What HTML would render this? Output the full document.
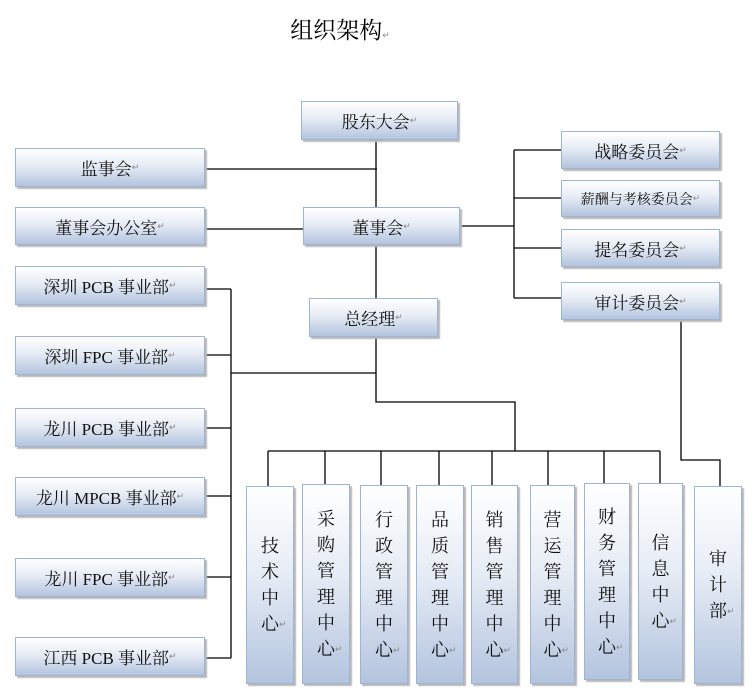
<!DOCTYPE html>
<html><head><meta charset="utf-8"><style>
body{margin:0;width:756px;height:692px;background:#fff;position:relative;overflow:hidden;font-family:"Liberation Serif","Noto Serif CJK SC","Noto Sans CJK SC",serif;}
.b{position:absolute;box-sizing:border-box;border:1px solid #9fb3d2;background:linear-gradient(#ffffff 0%,#e6ecf5 45%,#b3c4de 100%);box-shadow:2px 2px 1px #b9b9b9;display:flex;align-items:center;justify-content:center;font-size:17px;color:#111;text-align:center;white-space:nowrap;}
.v{line-height:26px;font-size:18px;}
.v span{display:inline-block;width:18px;}
i{font-style:normal;font-size:9px;color:#888;}
.v i{position:absolute;}
h1{position:absolute;left:0;width:680px;top:12px;margin:0;text-align:center;font-size:23px;font-weight:normal;}
svg{position:absolute;left:0;top:0;}
</style></head><body>
<h1>组织架构<i>↵</i></h1>
<svg width="756" height="692" stroke="#000" stroke-width="1.3" fill="none">
<path d="M376 140V207M205 169H377M205 229H303M376 245V298M376 337V402H515V451M268 451H660"/>
<path d="M268 451V486M325 451V484M381 451V485M439 451V485M492 451V485M548 451V485M604 451V483M660 451V483"/>
<path d="M460 226H514M514 150V298M514 150H561M514 198H561M514 248H561M514 298H561"/>
<path d="M681 320V460H720V486"/>
<path d="M205 289H231M205 355H231M205 428H231M205 496H231M205 577H231M205 658H231M231 289V658M231 373H376"/>
</svg>
<div class="b" style="left:301px;top:101px;width:157px;height:39px">股东大会<i>↵</i></div>
<div class="b" style="left:15px;top:148px;width:190px;height:39px">监事会<i>↵</i></div>
<div class="b" style="left:15px;top:207px;width:190px;height:38px">董事会办公室<i>↵</i></div>
<div class="b" style="left:303px;top:207px;width:157px;height:38px">董事会<i>↵</i></div>
<div class="b" style="left:309px;top:298px;width:129px;height:39px">总经理<i>↵</i></div>
<div class="b" style="left:561px;top:131px;width:159px;height:38px">战略委员会<i>↵</i></div>
<div class="b" style="left:561px;top:180px;width:159px;height:37px;font-size:14px">薪酬与考核委员会<i>↵</i></div>
<div class="b" style="left:561px;top:229px;width:159px;height:38px">提名委员会<i>↵</i></div>
<div class="b" style="left:561px;top:282px;width:159px;height:38px">审计委员会<i>↵</i></div>
<div class="b" style="left:15px;top:266px;width:190px;height:39px">深圳 PCB 事业部<i>↵</i></div>
<div class="b" style="left:15px;top:336px;width:190px;height:39px">深圳 FPC 事业部<i>↵</i></div>
<div class="b" style="left:15px;top:408px;width:190px;height:39px">龙川 PCB 事业部<i>↵</i></div>
<div class="b" style="left:15px;top:477px;width:190px;height:39px">龙川 MPCB 事业部<i>↵</i></div>
<div class="b" style="left:15px;top:558px;width:190px;height:39px">龙川 FPC 事业部<i>↵</i></div>
<div class="b" style="left:15px;top:637px;width:190px;height:39px">江西 PCB 事业部<i>↵</i></div>
<div class="b v" style="left:246px;top:486px;width:48px;height:198px"><span>技<br>术<br>中<br>心<i>↵</i></span></div>
<div class="b v" style="left:302px;top:484px;width:48px;height:200px"><span>采<br>购<br>管<br>理<br>中<br>心<i>↵</i></span></div>
<div class="b v" style="left:360px;top:485px;width:48px;height:199px"><span>行<br>政<br>管<br>理<br>中<br>心<i>↵</i></span></div>
<div class="b v" style="left:416px;top:485px;width:48px;height:199px"><span>品<br>质<br>管<br>理<br>中<br>心<i>↵</i></span></div>
<div class="b v" style="left:471px;top:485px;width:47px;height:199px"><span>销<br>售<br>管<br>理<br>中<br>心<i>↵</i></span></div>
<div class="b v" style="left:530px;top:485px;width:45px;height:199px"><span>营<br>运<br>管<br>理<br>中<br>心<i>↵</i></span></div>
<div class="b v" style="left:584px;top:483px;width:46px;height:197px"><span>财<br>务<br>管<br>理<br>中<br>心<i>↵</i></span></div>
<div class="b v" style="left:638px;top:483px;width:45px;height:197px"><span>信<br>息<br>中<br>心<i>↵</i></span></div>
<div class="b v" style="left:694px;top:486px;width:48px;height:198px"><span>审<br>计<br>部<i>↵</i></span></div>
</body></html>
